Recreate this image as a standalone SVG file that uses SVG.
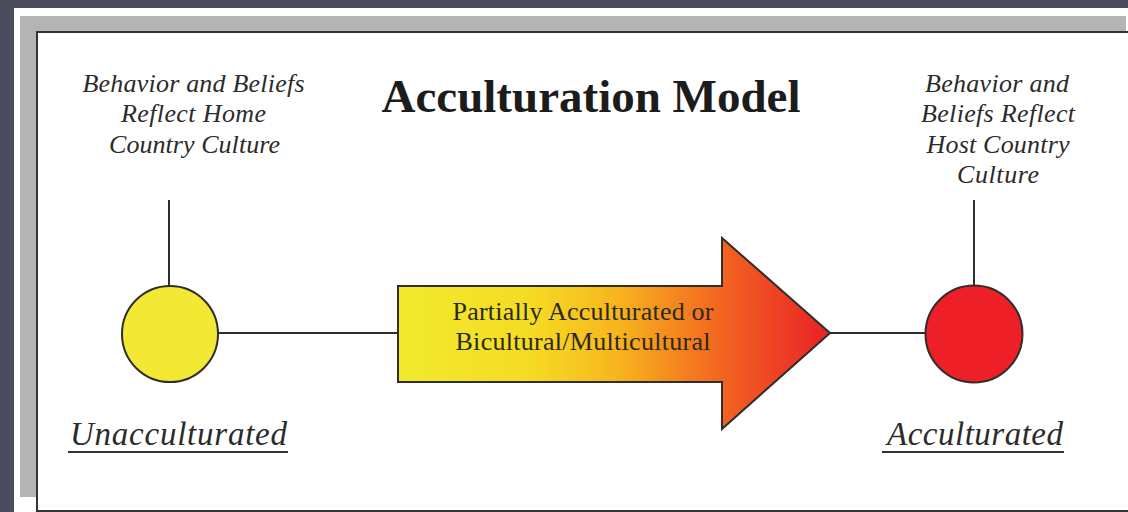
<svg xmlns="http://www.w3.org/2000/svg" width="1128" height="512" viewBox="0 0 1128 512">
  <style>
    .lbl { font-family: "Liberation Serif", "Times New Roman", serif; font-style: italic; font-size: 26px; fill: #2b2b2b; text-anchor: middle; }
    .end { font-family: "Liberation Serif", "Times New Roman", serif; font-style: italic; font-size: 33px; fill: #2b2b2b; text-anchor: middle; }
    .arr { font-family: "Liberation Serif", "Times New Roman", serif; font-size: 26px; fill: #2a2a1a; text-anchor: middle; }
    .title { font-family: "Liberation Serif", "Times New Roman", serif; font-weight: bold; font-size: 47px; fill: #1c1c1c; text-anchor: middle; }
    .conn line { stroke: #2e2e2e; stroke-width: 2; }
    .node { stroke: #2e2e2e; stroke-width: 2; }
    .ul { stroke: #333; stroke-width: 2; }
  </style>
  <defs>
    <linearGradient id="grad" gradientUnits="userSpaceOnUse" x1="398" y1="0" x2="830" y2="0">
      <stop offset="0" stop-color="#f2ea2c"/>
      <stop offset="0.3" stop-color="#f5dc24"/>
      <stop offset="0.5" stop-color="#f7b71d"/>
      <stop offset="0.72" stop-color="#f36d1f"/>
      <stop offset="1" stop-color="#ea2026"/>
    </linearGradient>
  </defs>

  <!-- backdrop and frame -->
  <rect x="0" y="0" width="1128" height="512" fill="#4b4d5f"/>
  <rect x="14" y="8" width="1114" height="504" fill="#ffffff"/>
  <rect x="20" y="16" width="1106" height="481" fill="#b4b4b4"/>
  <rect x="37" y="32" width="1100" height="479" fill="#ffffff" stroke="#333" stroke-width="2"/>

  <!-- title -->
  <text class="title" x="591" y="112">Acculturation Model</text>

  <!-- connectors -->
  <g id="connectors" class="conn">
    <line x1="169" y1="200" x2="169" y2="286"/>
    <line x1="974" y1="200" x2="974" y2="286"/>
    <line x1="218" y1="333" x2="398" y2="333"/>
    <line x1="830" y1="333" x2="925" y2="333"/>
  </g>

  <!-- left description -->
  <g id="home-label">
    <text class="lbl" x="193.5" y="92" textLength="222">Behavior and Beliefs</text>
    <text class="lbl" x="193.5" y="122" textLength="145">Reflect Home</text>
    <text class="lbl" x="194.5" y="153" textLength="171">Country Culture</text>
  </g>

  <!-- right description -->
  <g id="host-label">
    <text class="lbl" x="997" y="92" textLength="144">Behavior and</text>
    <text class="lbl" x="998" y="122" textLength="154">Beliefs Reflect</text>
    <text class="lbl" x="998" y="153" textLength="143">Host Country</text>
    <text class="lbl" x="998" y="183" textLength="82">Culture</text>
  </g>

  <!-- unacculturated node -->
  <g id="unacculturated">
    <circle class="node" cx="170" cy="334" r="48" fill="#f3e935"/>
    <text class="end" x="178.5" y="445" textLength="217">Unacculturated</text>
    <line class="ul" x1="68" y1="452" x2="288" y2="452"/>
  </g>

  <!-- progress arrow -->
  <g id="partial">
    <path class="node" d="M398,286 L722,286 L722,238 L830,333 L722,429 L722,382 L398,382 Z" fill="url(#grad)"/>
    <text class="arr" x="583" y="320" textLength="261">Partially Acculturated or</text>
    <text class="arr" x="583" y="350" textLength="255">Bicultural/Multicultural</text>
  </g>

  <!-- acculturated node -->
  <g id="acculturated">
    <circle class="node" cx="974" cy="334" r="48.5" fill="#ee1f26"/>
    <text class="end" x="975" y="445" textLength="176">Acculturated</text>
    <line class="ul" x1="882" y1="452" x2="1064" y2="452"/>
  </g>
</svg>
